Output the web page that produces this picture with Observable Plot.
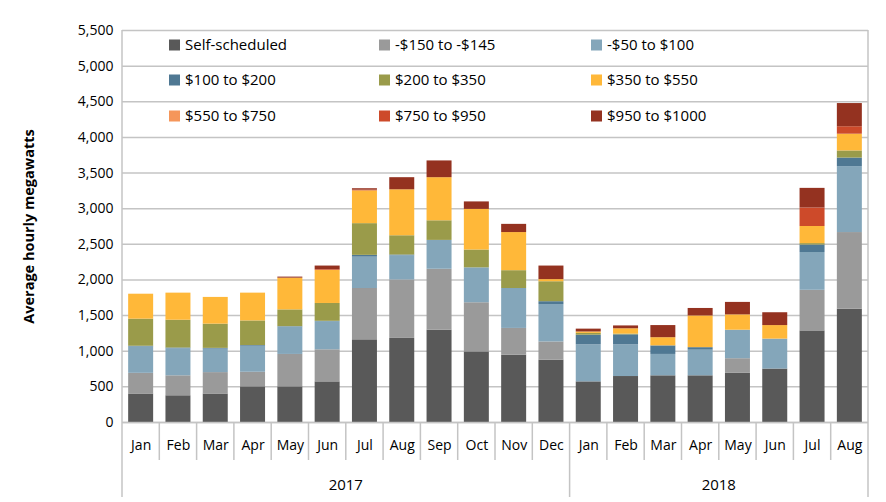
<!DOCTYPE html>
<html><head><meta charset="utf-8">
<script src="https://cdn.jsdelivr.net/npm/d3@7"></script>
<script src="https://cdn.jsdelivr.net/npm/@observablehq/plot@0.6"></script>
<style>
body{margin:0;background:#fff;}
#chart{position:relative;width:886px;height:502px;}
</style>
</head><body><div id="chart"></div>
<script>
const months = ["Jan","Feb","Mar","Apr","May","Jun","Jul","Aug","Sep","Oct","Nov","Dec","Jan","Feb","Mar","Apr","May","Jun","Jul","Aug"];
const years = [2017,2017,2017,2017,2017,2017,2017,2017,2017,2017,2017,2017,2018,2018,2018,2018,2018,2018,2018,2018];
const seriesNames = ["Self-scheduled","-$150 to -$145","-$50 to $100","$100 to $200","$200 to $350","$350 to $550","$550 to $750","$750 to $950","$950 to $1000"];
const seriesColors = ["#595959","#9a9a9a","#84a6ba","#4f7893","#9a9b4a","#ffb839","#f5965a","#cd4a2a","#943220"];
const selfScheduled = [400,375,400,500,500,570,1160,1180,1295,990,945,875,570,645,655,655,690,750,1285,1590];
const neg150to145   = [290,280,300,205,455,450,720,820,855,690,375,255,0,0,0,0,205,0,570,1075];
const neg50to100    = [370,380,330,365,385,395,440,340,405,490,560,525,520,445,300,360,400,420,530,925];
const p100to200     = [10,10,10,10,5,5,25,10,0,0,0,40,135,140,120,35,0,0,105,120];
const p200to350     = [380,390,340,345,235,250,445,270,275,250,250,280,25,10,0,0,0,0,20,100];
const p350to550     = [350,380,375,390,445,465,460,645,605,570,535,30,20,75,115,445,215,190,240,235];
const p550to750     = [0,0,0,0,0,0,0,0,0,0,0,0,0,0,0,0,0,0,0,0];
const p750to950     = [0,0,0,0,0,10,10,0,0,0,0,0,0,0,0,0,0,0,260,105];
const p950to1000    = [0,0,0,0,15,50,20,170,235,105,115,190,40,40,170,105,175,180,275,325];
const yTicks = [0,500,1000,1500,2000,2500,3000,3500,4000,4500,5000,5500];
const yearLabels = [2017, 2018];

const seriesValues = [selfScheduled,neg150to145,neg50to100,p100to200,p200to350,p350to550,p550to750,p750to950,p950to1000];
const keys = months.map((m,i)=>`${m} ${years[i]}`);
const data = [];
seriesNames.forEach((s,j)=> seriesValues[j].forEach((v,i)=> data.push({key: keys[i], series: s, value: v})));

const gridColor = "#c4c4c4";
const font = "'Open Sans', sans-serif";

const chart = Plot.plot({
  width: 886, height: 502,
  marginLeft: 122, marginRight: 18, marginTop: 30, marginBottom: 80,
  style: {fontFamily: font, fontSize: "14px", color: "#000", background: "#fff"},
  x: {domain: keys, paddingInner: 0.33, paddingOuter: 0.165, round: false, label: null},
  y: {domain: [0, 5500], label: null},
  color: {domain: seriesNames, range: seriesColors},
  marks: [
    Plot.gridY(yTicks, {stroke: gridColor, strokeOpacity: 1, strokeWidth: 1.5}),
    Plot.barY(data, {x: "key", y: "value", fill: "series"}),
    Plot.axisY(yTicks, {tickSize: 0, tickPadding: 9, tickFormat: d3.format(","), fontSize: 14,
      label: "Average hourly megawatts", labelAnchor: "center", labelArrow: "none", labelOffset: 99}),
    Plot.axisX({tickSize: 0, tickPadding: 18, tickFormat: k => k.split(" ")[0], fontSize: 14, label: null}),
    Plot.ruleY([0], {stroke: gridColor, strokeWidth: 1.5})
  ]
});
document.getElementById("chart").appendChild(chart);

const svg = d3.select(chart);
svg.selectAll("[aria-label='y-axis label'] text, g[aria-label='y-axis label']").attr("font-weight", "bold").attr("font-size", 14.5);

// category separators and year row using the x scale
const xs = chart.scale("x");
const step = xs.step, bw = xs.bandwidth;
const gap = (step - bw) / 2;
const bounds = keys.map(k => xs.apply(k) - gap);
bounds.push(xs.apply(keys[keys.length-1]) + bw + gap);
const y0 = 422, yMonth = 460, yYear = 497;
const sep = svg.append("g");
bounds.forEach((b, i) => {
  const outer = i === 0 || i === bounds.length - 1;
  const isYear = outer || years[i] !== years[i-1];
  sep.append("line").attr("x1", b).attr("x2", b).attr("y1", outer ? 30 : y0).attr("y2", isYear ? yYear : yMonth)
    .attr("stroke", gridColor).attr("stroke-width", 1.5);
});
yearLabels.forEach(yr => {
  const idx = years.map((y,i)=>[y,i]).filter(d=>d[0]===yr).map(d=>d[1]);
  const x1 = bounds[idx[0]], x2 = bounds[idx[idx.length-1]+1];
  svg.append("text").attr("x", (x1+x2)/2).attr("y", 485).attr("dy", "0.35em")
    .attr("text-anchor", "middle").attr("font-size", 15).attr("font-family", font).text(yr);
});

// legend inside the plot area
const legCols = [169, 379, 591], legRows = [45, 80, 116];
const leg = svg.append("g").attr("text-anchor", "start");
seriesNames.forEach((s, i) => {
  const cx = legCols[i % 3], cy = legRows[Math.floor(i / 3)];
  leg.append("rect").attr("x", cx).attr("y", cy - 5.5).attr("width", 11).attr("height", 11).attr("fill", seriesColors[i]);
  leg.append("text").attr("x", cx + 16).attr("y", cy).attr("dy", "0.35em").attr("text-anchor", "start")
    .attr("font-size", 15).attr("font-family", font).text(s);
});
</script>
</body></html>
